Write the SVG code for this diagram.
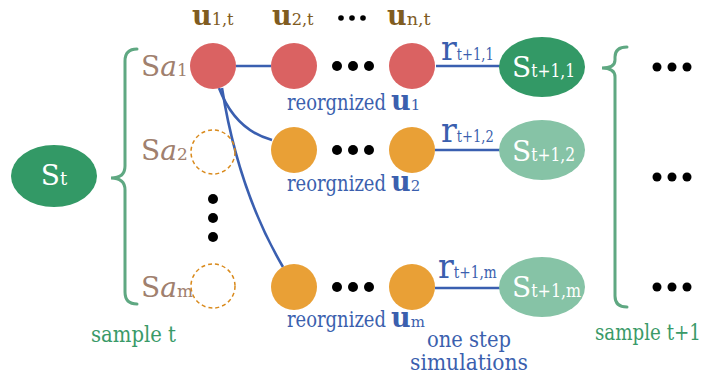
<svg xmlns="http://www.w3.org/2000/svg" width="707" height="381" viewBox="0 0 707 381">
  <style>
    text { font-family: "DejaVu Serif", serif; }
    .link { fill: none; stroke: #3a5fb0; stroke-width: 2.6; }
    .brace { fill: none; stroke: #5fa882; stroke-width: 3; stroke-linecap: round; }
    .red { fill: #da6262; }
    .org { fill: #e9a036; }
    .ghost { fill: none; stroke: #d98a1c; stroke-width: 1.5; stroke-dasharray: 4 3; }
    .dot { fill: #000; }
    .dark { fill: #339966; }
    .light { fill: #86c3a6; }
    .wt { fill: #fff; }
    .ulab { fill: #805c1f; }
    .bl { fill: #3b5fae; }
    .gr { fill: #3a9a68; }
    .sa { fill: #a0806e; }
    .big { font-size: 28px; }
    .sub { font-size: 17px; }
    .u { font-size: 27px; font-weight: bold; }
    .body { font-size: 23px; }
  </style>

  <!-- connectors -->
  <g id="connectors">
    <path class="link" d="M236,66 L271,66"/>
    <path class="link" d="M436,66 L500,66"/>
    <path class="link" d="M435,150 L500,150"/>
    <path class="link" d="M435,288 L500,288"/>
    <path class="link" d="M219,88 Q235,130 272,140"/>
    <path class="link" d="M222,88 Q238,190 283,267"/>
  </g>

  <!-- current state -->
  <g id="state-t">
    <ellipse class="dark" cx="54" cy="176" rx="43" ry="31"/>
    <text x="54" y="185" text-anchor="middle" class="wt"><tspan class="big">S</tspan><tspan font-size="18">t</tspan></text>
  </g>

  <g id="brace-t">
    <path class="brace" d="M137,49 Q125,49 125,61 L125,166 Q125,178 111,178 Q125,178 125,190 L125,292 Q125,304 137,304"/>
    <text x="91" y="342" class="gr body" textLength="85" lengthAdjust="spacingAndGlyphs">sample t</text>
  </g>

  <!-- action labels -->
  <g id="labels-sa">
    <text y="76" class="sa"><tspan x="141" class="big">S</tspan><tspan class="big" font-style="italic">a</tspan><tspan class="sub">1</tspan></text>
    <text y="160" class="sa"><tspan x="141" class="big">S</tspan><tspan class="big" font-style="italic">a</tspan><tspan class="sub">2</tspan></text>
    <text y="297" class="sa"><tspan x="141" class="big">S</tspan><tspan class="big" font-style="italic">a</tspan><tspan class="sub">m</tspan></text>
  </g>

  <!-- column headers -->
  <g id="headers">
    <text y="25" class="ulab"><tspan x="192" class="u">u</tspan><tspan class="sub" textLength="22" lengthAdjust="spacingAndGlyphs">1,t</tspan></text>
    <text y="25" class="ulab"><tspan x="272" class="u">u</tspan><tspan class="sub" textLength="22" lengthAdjust="spacingAndGlyphs">2,t</tspan></text>
    <circle class="dot" cx="341" cy="18" r="2.8"/>
    <circle class="dot" cx="352" cy="18" r="2.8"/>
    <circle class="dot" cx="363" cy="18" r="2.8"/>
    <text y="25" class="ulab"><tspan x="387" class="u">u</tspan><tspan class="sub" textLength="24" lengthAdjust="spacingAndGlyphs">n,t</tspan></text>
  </g>

  <!-- row 1 -->
  <g id="row-1">
    <circle class="red" cx="213" cy="66" r="23"/>
    <circle class="red" cx="294" cy="66" r="23"/>
    <circle class="dot" cx="337" cy="66" r="5"/>
    <circle class="dot" cx="353" cy="66" r="5"/>
    <circle class="dot" cx="369" cy="66" r="5"/>
    <circle class="red" cx="412" cy="66" r="23"/>
    <text y="110" class="bl"><tspan x="287" class="body" textLength="99" lengthAdjust="spacingAndGlyphs">reorgnized</tspan><tspan x="391" class="u" font-weight="normal">u</tspan><tspan font-size="15">1</tspan></text>
  </g>

  <!-- row 2 -->
  <g id="row-2">
    <circle class="ghost" cx="213" cy="152" r="22"/>
    <circle class="org" cx="294" cy="150" r="23"/>
    <circle class="dot" cx="337" cy="150" r="5"/>
    <circle class="dot" cx="353" cy="150" r="5"/>
    <circle class="dot" cx="369" cy="150" r="5"/>
    <circle class="org" cx="412" cy="150" r="23"/>
    <text y="191" class="bl"><tspan x="287" class="body" textLength="99" lengthAdjust="spacingAndGlyphs">reorgnized</tspan><tspan x="391" class="u" font-weight="normal">u</tspan><tspan font-size="15">2</tspan></text>
  </g>

  <g id="vdots">
    <circle class="dot" cx="213" cy="199" r="5"/>
    <circle class="dot" cx="213" cy="218" r="5"/>
    <circle class="dot" cx="213" cy="237" r="5"/>
  </g>

  <!-- row m -->
  <g id="row-m">
    <circle class="ghost" cx="213" cy="286" r="22"/>
    <circle class="org" cx="294" cy="287" r="23"/>
    <circle class="dot" cx="337" cy="287" r="5"/>
    <circle class="dot" cx="353" cy="287" r="5"/>
    <circle class="dot" cx="369" cy="287" r="5"/>
    <circle class="org" cx="412" cy="287" r="23"/>
    <text y="327" class="bl"><tspan x="287" class="body" textLength="99" lengthAdjust="spacingAndGlyphs">reorgnized</tspan><tspan x="391" class="u" font-weight="normal">u</tspan><tspan font-size="15">m</tspan></text>
  </g>

  <!-- rewards -->
  <g id="rewards">
    <text y="60" class="bl"><tspan x="441" font-size="33">r</tspan><tspan font-size="17" textLength="37" lengthAdjust="spacingAndGlyphs">t+1,1</tspan></text>
    <text y="142" class="bl"><tspan x="441" font-size="33">r</tspan><tspan font-size="17" textLength="37" lengthAdjust="spacingAndGlyphs">t+1,2</tspan></text>
    <text y="278" class="bl"><tspan x="438" font-size="33">r</tspan><tspan font-size="17" textLength="43" lengthAdjust="spacingAndGlyphs">t+1,m</tspan></text>
  </g>

  <!-- next states -->
  <g id="state-t1-1">
    <ellipse class="dark" cx="542" cy="67" rx="43" ry="30"/>
    <text y="77" class="wt"><tspan x="512" class="big">S</tspan><tspan font-size="18" textLength="44" lengthAdjust="spacingAndGlyphs">t+1,1</tspan></text>
  </g>
  <g id="state-t1-2">
    <ellipse class="light" cx="542" cy="150" rx="43" ry="30"/>
    <text y="161" class="wt"><tspan x="512" class="big">S</tspan><tspan font-size="18" textLength="44" lengthAdjust="spacingAndGlyphs">t+1,2</tspan></text>
  </g>
  <g id="state-t1-m">
    <ellipse class="light" cx="542" cy="287" rx="43" ry="30"/>
    <text y="297" class="wt"><tspan x="512" class="big">S</tspan><tspan font-size="18" textLength="50" lengthAdjust="spacingAndGlyphs">t+1,m</tspan></text>
  </g>

  <g id="caption-sim" class="bl">
    <text x="427" y="347" class="body" textLength="84" lengthAdjust="spacingAndGlyphs">one step</text>
    <text x="410" y="370" class="body" textLength="118" lengthAdjust="spacingAndGlyphs">simulations</text>
  </g>

  <g id="brace-t1">
    <path class="brace" d="M627,47 Q615,47 615,57 L615,60 Q615,68 602,68 Q615,68 615,77 L615,296 Q615,307 627,307"/>
    <text x="595" y="340" class="gr body" textLength="106" lengthAdjust="spacingAndGlyphs">sample t+1</text>
  </g>

  <g id="next-dots">
    <circle class="dot" cx="657" cy="67" r="4.5"/>
    <circle class="dot" cx="672" cy="67" r="4.5"/>
    <circle class="dot" cx="687" cy="67" r="4.5"/>
    <circle class="dot" cx="657" cy="177" r="4.5"/>
    <circle class="dot" cx="672" cy="177" r="4.5"/>
    <circle class="dot" cx="687" cy="177" r="4.5"/>
    <circle class="dot" cx="657" cy="287" r="4.5"/>
    <circle class="dot" cx="672" cy="287" r="4.5"/>
    <circle class="dot" cx="687" cy="287" r="4.5"/>
  </g>
</svg>
